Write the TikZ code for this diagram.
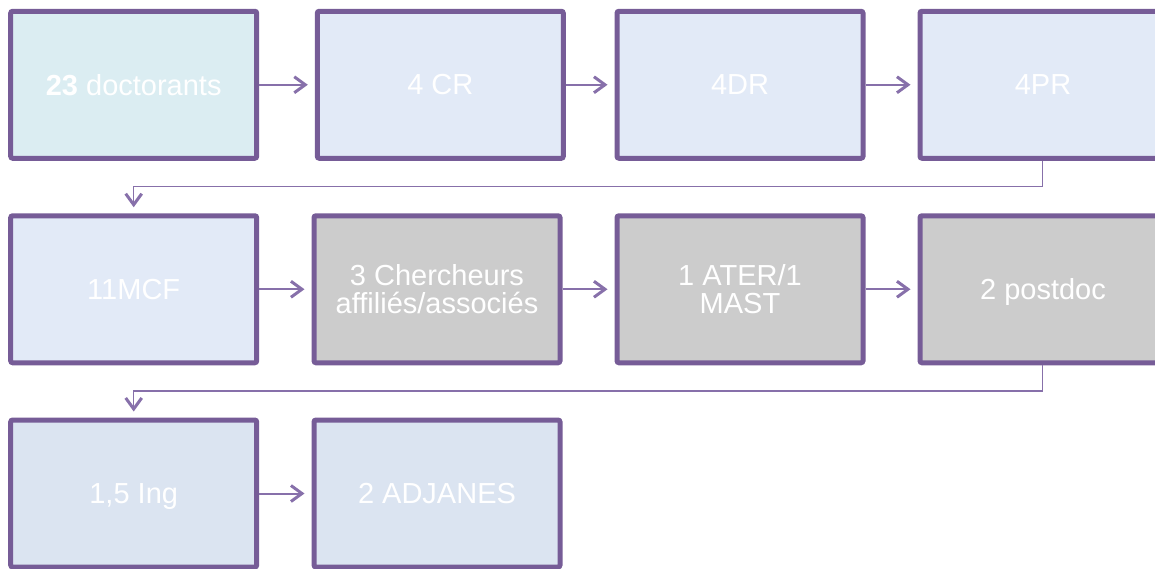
\documentclass[tikz,border=0pt]{standalone}
\usepackage{fontspec}
\setmainfont{Liberation Sans}
\usetikzlibrary{arrows.meta}
\definecolor{bord}{HTML}{765C97}
\definecolor{conn}{HTML}{8770AA}
\definecolor{fcyan}{HTML}{DBEDF2}
\definecolor{fblue}{HTML}{E2EAF7}
\definecolor{fgray}{HTML}{CCCCCC}
\definecolor{fblue2}{HTML}{DBE4F1}
\tikzset{
  box/.style={rectangle, draw=bord, line width=5pt, rounded corners=2pt,
    minimum width=246pt, minimum height=147pt, inner sep=0pt,
    text=white, align=center, font=\fontsize{29}{28}\selectfont},
  oneline/.style={text depth=0pt},
  arr/.style={draw=conn, line width=2pt,
    -{Straight Barb[length=11pt,width=16pt,line width=3pt]}},
}
\begin{document}
\begin{tikzpicture}[x=1pt,y=-1pt]
\useasboundingbox (0,0) rectangle (1155,568);
\clip (0,0) rectangle (1155,568);
% row 1
\node[box, oneline, fill=fcyan] (a1) at (133.7,84.75) {\textbf{23} doctorants};
\node[box, oneline, fill=fblue] (a2) at (440.3,84.75) {4 CR};
\node[box, oneline, fill=fblue] (a3) at (740,84.75) {4DR};
\node[box, oneline, fill=fblue] (a4) at (1043,84.75) {4PR};
% row 2
\node[box, oneline, fill=fblue] (b1) at (133.7,289.25) {11MCF};
\node[box, fill=fgray] (b2) at (437,289.25) {3 Chercheurs\\affiliés/associés};
\node[box, fill=fgray] (b3) at (740,289.25) {1 ATER/1\\MAST};
\node[box, oneline, fill=fgray] (b4) at (1043,289.25) {2 postdoc};
% row 3
\node[box, oneline, fill=fblue2] (c1) at (133.7,493.5) {1,5 Ing};
\node[box, oneline, fill=fblue2] (c2) at (437,493.5) {2 ADJANES};
% connectors
\draw[arr, shorten >=7pt] (a1.east) -- (a2.west);
\draw[arr, shorten >=7pt] (a2.east) -- (a3.west);
\draw[arr, shorten >=7pt] (a3.east) -- (a4.west);
\draw[arr, shorten >=7pt] (b1.east) -- (b2.west);
\draw[arr, shorten >=7pt] (b2.east) -- (b3.west);
\draw[arr, shorten >=7pt] (b3.east) -- (b4.west);
\draw[arr, shorten >=7pt] (c1.east) -- (c2.west);
\coordinate (k1) at (1042.3,186.7);
\coordinate (k2) at (1042.3,391);
\draw[arr, line width=1.5pt, shorten >=6pt] (a4.south -| k1) -- (k1) -- (k1 -| b1.north) -- (b1.north);
\draw[arr, line width=1.5pt, shorten >=6pt] (b4.south -| k2) -- (k2) -- (k2 -| c1.north) -- (c1.north);
\end{tikzpicture}
\end{document}
